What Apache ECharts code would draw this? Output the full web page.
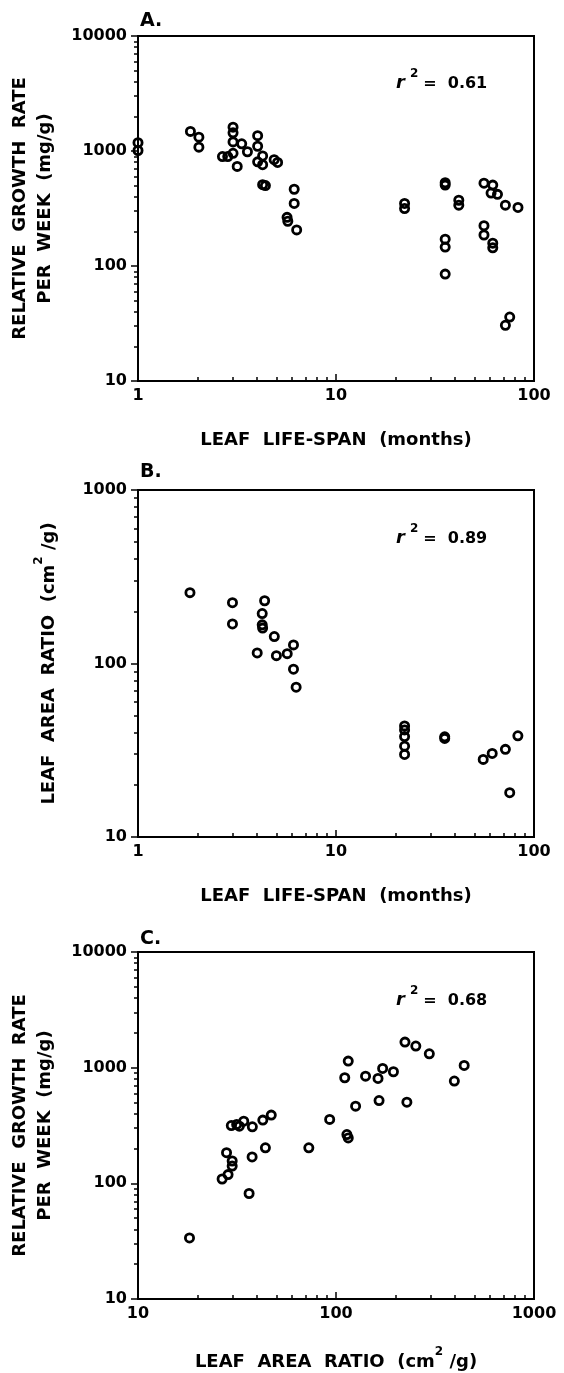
<!DOCTYPE html>
<html><head><meta charset="utf-8">
<script src="https://cdn.jsdelivr.net/npm/echarts@6/dist/echarts.min.js"></script>
<style>html,body{margin:0;padding:0;background:#fff}#c{width:564px;height:1373px}</style>
</head><body><div id="c"></div>
<script>
// ---- Panel A: leaf life-span (months) vs relative growth rate (mg/g per week)
const lifespanA = [1,1, 1.84,2.03,2.03, 2.67,2.84, 3.02,3.02,3.02,3.02, 3.17,3.34,3.57, 4.02,4.02,4.02, 4.26,4.26,4.26,4.4, 4.87,5.07, 5.66,5.71, 6.15,6.15,6.33, 22.2,22.2, 35.6,35.6,35.6,35.6,35.6, 41.7,41.7, 55.9,55.9,55.9, 61.9,61.9,61.9, 60.7,65.4, 71.7,83, 75.4,71.7];
const rgrA      = [1010,1180, 1480,1320,1080, 895,895, 1610,1440,1200,955, 735,1155,985, 1360,1100,805, 905,760,510,500, 840,795, 265,245, 465,350,206, 350,316, 530,505,171,146,85, 373,338, 525,224,186, 505,158,144, 431,420, 338,323, 36,30.5];
// ---- Panel B: leaf life-span (months) vs leaf area ratio (cm2/g)
const lifespanB = [1.83, 3.0,3.0, 4.0, 4.24,4.36,4.24,4.26, 4.88,5.0,5.67, 6.1,6.1,6.29, 22.2,22.2,22.2,22.2,22.2, 35.4,35.4, 55.4,61.5,71.7,82.9,75.4];
const larB      = [256, 224,169, 115, 194,230,167,160, 143,111,114, 128,92.7,73, 43.7,41.4,37.9,33.4,29.9, 37.8,37, 28,30.3,32,38.3,18];
// ---- Panel C: leaf area ratio (cm2/g) vs relative growth rate (mg/g per week)
const larC = [18.2, 26.6,28,28.5,29.9,29.9, 29.6,31.5,32.5,34.2,37.8,37.7,36.4, 42.7,44,47.1, 72.9,92.9, 110.7,115.3,113.5,115.3, 125.6,141,163,165,172,195, 223,253,296,228, 396,444];
const rgrC = [33.7, 109,184,119,156,141, 316,323,312,345,308,169,81.7, 352,203,389, 203,357, 818,1140,264,247, 465,845,807,520,985,922, 1663,1538,1318,503, 766,1045];

const panelLetters = ['A.', 'B.', 'C.'];
const r2Values = ['0.61', '0.89', '0.68'];
const xRanges = [[1, 100], [1, 100], [10, 1000]];
const yRanges = [[10, 10000], [10, 1000], [10, 10000]];

const FONT = 'DejaVu Sans';
const BLACK = '#000';

function majors(min, max) { const r = []; for (let v = min; v <= max * 1.0001; v *= 10) r.push(v); return r; }
function minors(min, max) { const r = []; for (let d = min; d < max * 0.9999; d *= 10) for (let k = 2; k <= 9; k++) r.push(d * k); return r; }

const grids = [
  { left: 138, top: 36, width: 396, height: 345 },
  { left: 138, top: 490, width: 396, height: 347 },
  { left: 138, top: 952, width: 396, height: 347 }
].map(g => Object.assign(g, { show: true, borderColor: BLACK, borderWidth: 2, backgroundColor: 'transparent', containLabel: false }));

const nameStyle = {
  fontFamily: FONT, fontWeight: 'bold', fontSize: 18, color: BLACK, lineHeight: 25,
  rich: {
    t: { fontFamily: FONT, fontWeight: 'bold', fontSize: 18, color: BLACK, lineHeight: 25, verticalAlign: 'bottom' },
    s: { fontFamily: FONT, fontWeight: 'bold', fontSize: 12, color: BLACK, lineHeight: 25, verticalAlign: 'top' }
  }
};
const labelStyle = { fontFamily: FONT, fontWeight: 'bold', fontSize: 16, color: BLACK };

const xNames = ['LEAF  LIFE-SPAN  (months)', 'LEAF  LIFE-SPAN  (months)', '{t|LEAF  AREA  RATIO  (cm}{s|2}{t| /g)}'];
const yNames = ['RELATIVE  GROWTH  RATE\nPER  WEEK  (mg/g)', '{t|LEAF  AREA  RATIO  (cm}{s|2}{t| /g)}', 'RELATIVE  GROWTH  RATE\nPER  WEEK  (mg/g)'];

const xAxis = [], yAxis = [];
for (let i = 0; i < 3; i++) {
  const [x0, x1] = xRanges[i], [y0, y1] = yRanges[i];
  xAxis.push({
    type: 'log', logBase: 10, gridIndex: i, min: x0, max: x1, position: 'bottom',
    name: xNames[i], nameLocation: 'middle', nameGap: 47, nameTextStyle: nameStyle,
    axisLine: { show: true, onZero: false, lineStyle: { color: BLACK, width: 2 } },
    axisTick: { show: true, inside: true, length: 7, lineStyle: { color: BLACK, width: 1.5 }, customValues: majors(x0, x1) },
    axisLabel: Object.assign({ show: true, margin: 7, formatter: v => String(Math.round(v)), customValues: majors(x0, x1) }, labelStyle),
    splitLine: { show: false }
  });
  xAxis.push({
    type: 'log', logBase: 10, gridIndex: i, min: x0, max: x1, position: 'bottom',
    axisLine: { show: false }, axisLabel: { show: false }, splitLine: { show: false },
    axisTick: { show: true, inside: true, length: 4, lineStyle: { color: BLACK, width: 1.5 }, customValues: minors(x0, x1) }
  });
  yAxis.push({
    type: 'log', logBase: 10, gridIndex: i, min: y0, max: y1, position: 'left',
    name: yNames[i], nameLocation: 'middle', nameRotate: 90, nameGap: 80, nameTextStyle: nameStyle,
    axisLine: { show: true, onZero: false, lineStyle: { color: BLACK, width: 2 } },
    axisTick: { show: true, inside: false, length: 7, lineStyle: { color: BLACK, width: 1.5 }, customValues: majors(y0, y1) },
    axisLabel: Object.assign({ show: true, margin: 11, formatter: v => String(Math.round(v)), customValues: majors(y0, y1) }, labelStyle),
    splitLine: { show: false }
  });
  yAxis.push({
    type: 'log', logBase: 10, gridIndex: i, min: y0, max: y1, position: 'left',
    axisLine: { show: false }, axisLabel: { show: false }, splitLine: { show: false },
    axisTick: { show: true, inside: false, length: 4, lineStyle: { color: BLACK, width: 1.5 }, customValues: minors(y0, y1) }
  });
}

const pairs = [[lifespanA, rgrA], [lifespanB, larB], [larC, rgrC]];
const series = pairs.map(([xs, ys], i) => ({
  type: 'scatter', xAxisIndex: 2 * i, yAxisIndex: 2 * i,
  data: xs.map((x, k) => [x, ys[k]]),
  symbol: 'circle', symbolSize: 8.2, clip: false,
  itemStyle: { color: 'rgba(0,0,0,0)', borderColor: BLACK, borderWidth: 2.8, opacity: 1 },
  emphasis: { disabled: true }, silent: true, animation: false
}));

const letterTops = [12, 463, 930];
const r2Tops = [68, 523, 985];
const title = [];
for (let i = 0; i < 3; i++) {
  title.push({ text: panelLetters[i], left: 140, top: letterTops[i], padding: 0,
    textStyle: { fontFamily: FONT, fontWeight: 'bold', fontSize: 19, color: BLACK } });
  title.push({ text: '{r|r} {s|2} {e|=  ' + r2Values[i] + '}', left: 396, top: r2Tops[i], padding: 0,
    textStyle: { rich: {
      r: { fontFamily: FONT, fontStyle: 'italic', fontWeight: 'bold', fontSize: 18, color: BLACK, lineHeight: 24, verticalAlign: 'bottom' },
      s: { fontFamily: FONT, fontWeight: 'bold', fontSize: 12, color: BLACK, lineHeight: 24, verticalAlign: 'top' },
      e: { fontFamily: FONT, fontWeight: 'bold', fontSize: 16, color: BLACK, lineHeight: 24, verticalAlign: 'bottom' }
    } } });
}

const chart = echarts.init(document.getElementById('c'), null, { renderer: 'canvas' });
chart.setOption({ backgroundColor: '#fff', animation: false, title, grid: grids, xAxis, yAxis, series });
</script></body></html>
